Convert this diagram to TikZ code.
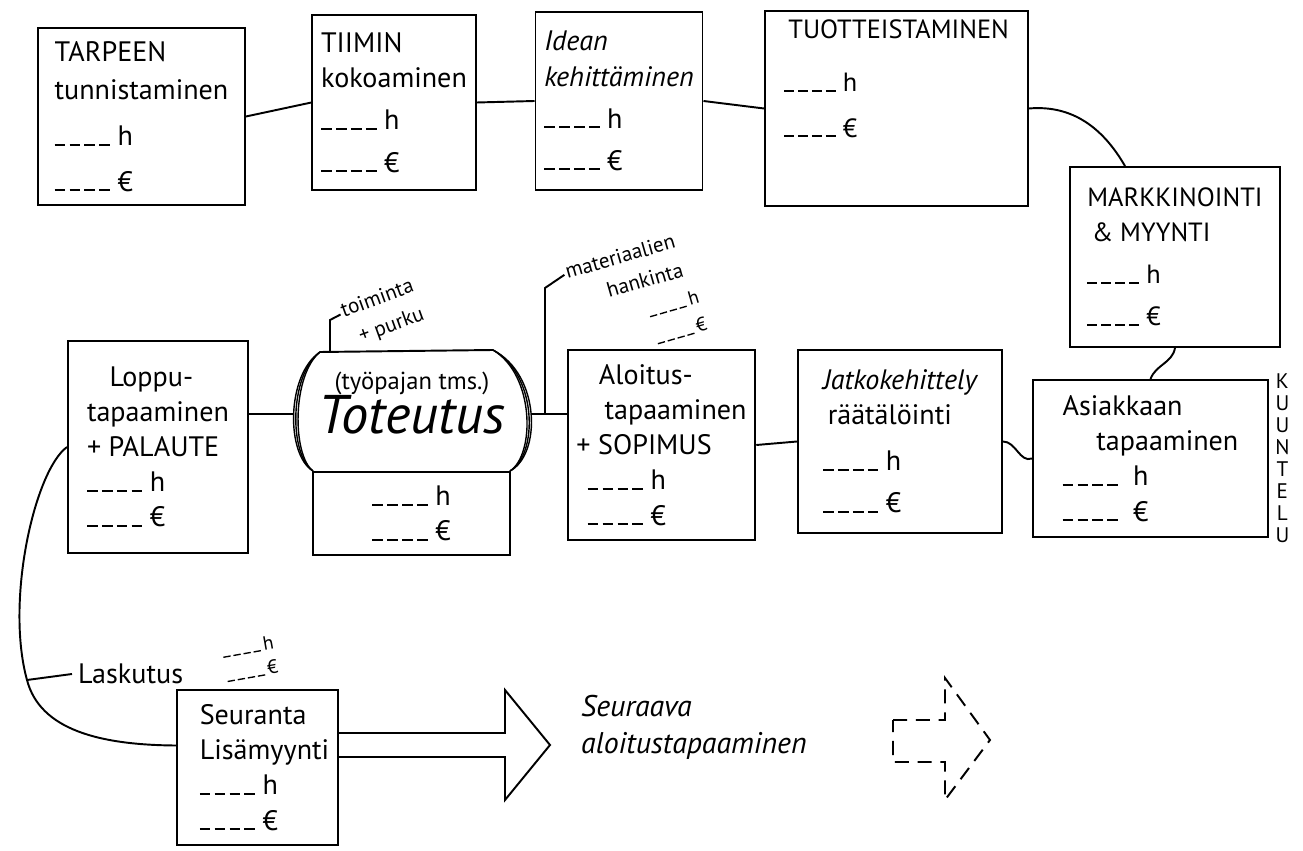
\documentclass[tikz,border=0pt]{standalone}
\usepackage{fontspec}
\setmainfont{PT Sans}
\usetikzlibrary{positioning,calc}

\newcommand{\viiva}{\rule{0.38em}{0.07em}\hspace{0.15em}\rule{0.38em}{0.07em}\hspace{0.15em}\rule{0.38em}{0.07em}\hspace{0.15em}\rule{0.38em}{0.07em}}
\newcommand{\teksti}{\fontsize{16}{20}\selectfont}

\begin{document}
\begin{tikzpicture}[x=0.02cm, y=-0.02cm,
    vaihe/.style={draw, line width=1.1pt, align=left, inner sep=5pt, font=\teksti},
    yhteys/.style={line width=1.1pt},
    pieni/.style={font=\fontsize{12}{17}\selectfont, align=right, inner sep=1pt}]

    \useasboundingbox (0,0) rectangle (1303,851);

    % ylarivi
    \node[vaihe, minimum width=4.14cm, minimum height=3.54cm] (tarve) at (141.5,116.5) {TARPEEN\\[2pt]tunnistaminen\\[6pt]\viiva\ h\\[6pt]\viiva\ €};
    \node[vaihe, minimum width=3.24cm, minimum height=3.5cm] (tiimi) at (394,102.5) {TIIMIN\\kokoaminen\\[4pt]\viiva\ h\\[4pt]\viiva\ €};
    \node[vaihe, minimum width=3.24cm, minimum height=3.56cm] (idea) at (619,101) {{\itshape Idean}\\{\itshape kehittäminen}\\[4pt]\viiva\ h\\[4pt]\viiva\ €};
    \node[vaihe, minimum width=5.26cm, minimum height=3.86cm, font=\fontsize{15}{20}\selectfont] (tuote) at (896.5,108.5) {\,TUOTTEISTAMINEN\\[10pt]\viiva\ h\\[6pt]\viiva\ €\\[14pt]};
    \node[vaihe, minimum width=4.2cm, minimum height=3.6cm, font=\fontsize{15}{20}\selectfont] (markkinointi) at (1175,257) {MARKKINOINTI\\\,\& MYYNTI\\[4pt]\viiva\ h\\[4pt]\viiva\ €};

    % keskirivi
    \node[vaihe, minimum width=4.7cm, minimum height=3.14cm] (asiakas) at (1150.5,458.5) {Asiakkaan\\\hspace{1.2em}tapaaminen\\\viiva\ \ h\\\viiva\ \ €};
    \node[font=\fontsize{12}{12.5}\selectfont, align=center, inner sep=0pt, right=0.12cm of asiakas] (kuuntelu) {K\\U\\U\\N\\T\\E\\L\\U};
    \node[vaihe, minimum width=4.08cm, minimum height=3.66cm] (jatko) at (900,441.5) {{\itshape Jatkokehittely}\\\,räätälöinti\\[6pt]\viiva\ h\\[4pt]\viiva\ €};
    \node[vaihe, minimum width=3.54cm, minimum height=3.8cm] (aloitus) at (661.5,445) {\hspace{0.8em}Aloitus-\\\hspace{1em}tapaaminen\\+ SOPIMUS\\\hspace{0.4em}\viiva\ h\\\hspace{0.4em}\viiva\ €};
    \node[vaihe, minimum width=3.6cm, minimum height=4.24cm] (loppu) at (158,447) {\hspace{0.8em}Loppu-\\tapaaminen\\+ PALAUTE\\\viiva\ h\\\viiva\ €};

    % toteutus
    \node[vaihe, minimum width=3.94cm, minimum height=1.66cm, align=center] (toteutusk) at (411.5,513.5) {\viiva\ h\\\viiva\ €};
    \node[font=\fontsize{14}{17}\selectfont, align=center] (toteutus) at (412,403) {(työpajan tms.)\\[-1pt]{\fontsize{31}{33}\selectfont\itshape Toteutus}};
    \coordinate (tot-l) at (294,414);
    \coordinate (tot-r) at (531,414);
    \coordinate (tot-t) at (330,351);
    \draw[yhteys] (320,352) -- (493,350);
    \foreach \d in {0,3,6} {
        \draw[line width=0.8pt] (320,352) .. controls (292-\d,375) and (292-\d,455) .. (313,471);
        \draw[line width=0.8pt] (493,350) .. controls (535+\d,375) and (535+\d,455) .. (510,471);
    }

    % alarivi
    \node[vaihe, minimum width=3.18cm, minimum height=3.1cm] (seuranta) at (257.5,767.5) {\hspace{0.5em}Seuranta\\\hspace{0.5em}Lisämyynti\\\hspace{0.5em}\viiva\ h\\\hspace{0.5em}\viiva\ €};
    \node[font=\fontsize{17}{21}\selectfont\itshape, align=left, anchor=west] (seuraava) at (575,727) {Seuraava\\aloitustapaaminen};

    % yhteydet
    \draw[yhteys] (tarve.east) -- (tiimi.west);
    \draw[yhteys] (tiimi.east) -- (idea.west);
    \draw[yhteys] (idea.east) -- (tuote.west);
    \draw[yhteys] (tuote.east) to[out=5, in=120] ([xshift=-1cm]markkinointi.north);
    \draw[yhteys] (markkinointi.south) to[out=-100, in=70] (asiakas.north);
    \draw[yhteys] (asiakas.west) to[out=200, in=0] (jatko.east);
    \draw[yhteys] (jatko.west) -- (aloitus.east);
    \draw[yhteys] (tot-r) -- (tot-r -| aloitus.west);
    \draw[yhteys] (tot-l) -- (tot-l -| loppu.east);

    % toiminta + purku
    \node[pieni, rotate=20, anchor=north west] (toiminta) at (336,302) {toiminta\\+ purku};
    \draw[yhteys] (tot-t) -- (330,320) -- ($(toiminta.north west)!0.25!(toiminta.south west)$);

    % materiaalien hankinta
    \coordinate (mat) at (545,414);
    \node[pieni, rotate=16, anchor=north west] (materiaalit) at (561,263) {materiaalien\\hankinta};
    \node[pieni, rotate=16, font=\fontsize{11}{16}\selectfont] (materiaalihe) at (668,320) {\viiva\,h\\\hspace{1em}\viiva\,€};
    \draw[yhteys] (mat) -- (545,288) -- ($(materiaalit.north west)!0.25!(materiaalit.south west)$);

    % laskutus
    \coordinate (lask) at (27,680);
    \draw[yhteys] (loppu.west) .. controls (35,470) and (5,600) .. (lask) .. controls (40,730) and (100,745) .. ([yshift=0.44cm]seuranta.west);
    \node[font=\teksti, anchor=west] (laskutus) at (72,674) {Laskutus};
    \draw[yhteys] (lask) -- (laskutus.west);
    \node[pieni, rotate=10, font=\fontsize{11}{14}\selectfont] (laskuhe) at (250,659) {\viiva\,h\\\viiva\,€};

    % nuolet
    \draw[yhteys] (seuranta.east |- 0,733) -- (505,733) -- (505,690) -- (550,745) -- (505,800) -- (505,757) -- (seuranta.east |- 0,757);
    \draw[yhteys, dash pattern=on 8pt off 5pt] (893,720) -- (945,720) -- (945,678) -- (990,740) -- (945,800) -- (945,762) -- (893,762) -- cycle;
\end{tikzpicture}
\end{document}
